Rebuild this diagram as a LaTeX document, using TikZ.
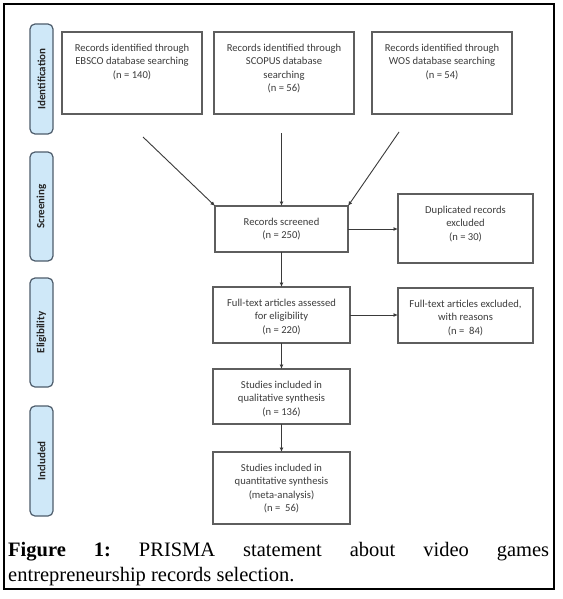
\documentclass[tikz,border=0pt]{standalone}
\usepackage{fontspec}
\setmainfont{Carlito}
\newfontfamily\capfont{Liberation Serif}
\usetikzlibrary{arrows.meta}
\definecolor{txtgray}{HTML}{3C3C3C}
\definecolor{boxgray}{HTML}{5E5E5E}
\definecolor{lblfill}{HTML}{CFE8F8}
\definecolor{lbldraw}{HTML}{4E5D6C}
\definecolor{arrgray}{HTML}{3A3A3A}
\begin{document}
\begin{tikzpicture}[x=1pt,y=-1pt,
  stagebox/.style={draw=boxgray, line width=1.2pt, fill=white, inner sep=0pt, outer sep=0pt, anchor=north west},
  boxtext/.style={anchor=north, inner sep=0pt, align=center, text=txtgray, font=\fontsize{10.6}{13.6}\selectfont},
  phase/.style={draw=lbldraw, line width=1.2pt, fill=lblfill, rounded corners=5pt, inner sep=0pt,
    rotate=90, minimum height=23pt, text=black!85, font=\fontsize{11}{13}\selectfont\bfseries},
  flow/.style={draw=arrgray, line width=0.9pt, -{Latex[length=4.5pt,width=4pt]}},
  captext/.style={anchor=base west, inner sep=0pt, font=\capfont\fontsize{20.5}{24}\selectfont},
]
\useasboundingbox (0,0) rectangle (562,599);
\fill[white] (0,0) rectangle (562,599);
\draw[line width=2.6pt] (4,4) rectangle (554,589);

% phase labels
\node[phase, minimum width=110pt] (ident) at (41.5,79) {Identification};
\node[phase, minimum width=109pt] (screen) at (41.5,206.5) {Screening};
\node[phase, minimum width=109pt] (elig) at (41.5,332.5) {Eligibility};
\node[phase, minimum width=110pt] (incl) at (41.5,461) {Included};

% boxes
\node[stagebox, minimum width=140pt, minimum height=82pt] (ebsco) at (62,32) {};
\node[boxtext] (ebscot) at ([yshift=-11.5pt]ebsco.north) {Records identified through\\EBSCO database searching\\(n = 140)};
\node[stagebox, minimum width=140pt, minimum height=82pt] (scopus) at (214,32) {};
\node[boxtext] (scopust) at ([yshift=-11.5pt]scopus.north) {Records identified through\\SCOPUS database\\searching\\(n = 56)};
\node[stagebox, minimum width=140pt, minimum height=82pt] (wos) at (372,32) {};
\node[boxtext] (wost) at ([yshift=-11.5pt]wos.north) {Records identified through\\WOS database searching\\(n = 54)};

\node[stagebox, minimum width=133pt, minimum height=46pt] (scr) at (215,206) {};
\node[boxtext] (scrt) at ([yshift=-11.5pt]scr.north) {Records screened\\(n = 250)};
\node[stagebox, minimum width=135pt, minimum height=69pt] (dup) at (398,194) {};
\node[boxtext] (dupt) at ([yshift=-11.5pt]dup.north) {Duplicated records\\excluded\\(n = 30)};

\node[stagebox, minimum width=137pt, minimum height=56pt] (fta) at (213,287) {};
\node[boxtext] (ftat) at ([yshift=-11.5pt]fta.north) {Full-text articles assessed\\for eligibility\\(n = 220)};
\node[stagebox, minimum width=135pt, minimum height=55pt] (fte) at (398,288) {};
\node[boxtext] (ftet) at ([yshift=-11.5pt]fte.north) {Full-text articles excluded,\\with reasons\\(n =~ 84)};

\node[stagebox, minimum width=137pt, minimum height=55pt] (qual) at (213,369) {};
\node[boxtext] (qualt) at ([yshift=-11.5pt]qual.north) {Studies included in\\qualitative synthesis\\(n = 136)};
\node[stagebox, minimum width=137pt, minimum height=72pt] (quant) at (213,452) {};
\node[boxtext] (quantt) at ([yshift=-11.5pt]quant.north) {Studies included in\\quantitative synthesis\\(meta-analysis)\\(n =~ 56)};

% connectors
\coordinate (a1) at (143,137);
\coordinate (a2) at (281.5,133);
\coordinate (a3) at (399,132);
\draw[flow] (a1) -- (scr.north west);
\draw[flow] (a2) -- (scr.north);
\draw[flow] (a3) -- (scr.north east);
\draw[flow] (scr.east) -- (scr.east -| dup.west);
\draw[flow] (scr.south) -- (fta.north);
\draw[flow] (fta.east) -- (fta.east -| fte.west);
\draw[flow] (fta.south) -- (qual.north);
\draw[flow] (qual.south) -- (quant.north);

% caption
\node[captext] (cap1) at (8,556) {\hbox to 541pt{\textbf{Figure}\hfill\textbf{1:}\hfill PRISMA\hfill statement\hfill about\hfill video\hfill games}};
\node[captext] (cap2) at (8,581) {entrepreneurship records selection.};
\end{tikzpicture}
\end{document}
